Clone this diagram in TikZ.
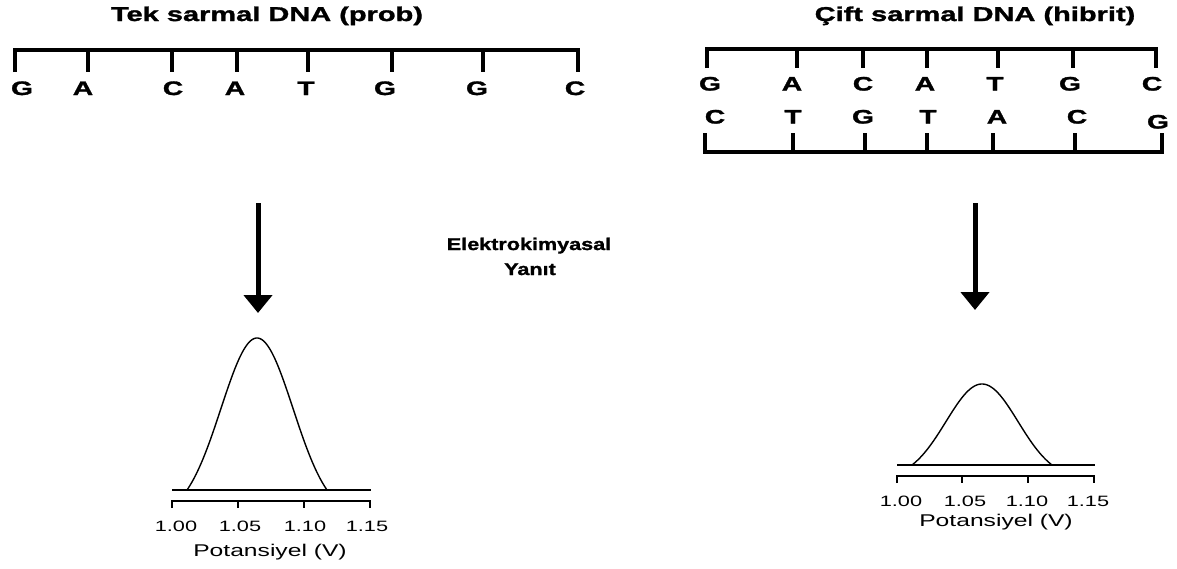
\documentclass[tikz,border=0pt]{standalone}
\usepackage{fontspec}
\setmainfont{Liberation Sans}[FakeStretch=1.45, BoldFeatures={FakeBold=1.5}]
\newfontfamily\captionfont{Liberation Sans}[FakeStretch=1.27, BoldFeatures={FakeBold=1.5}]
\usetikzlibrary{arrows.meta}

\tikzset{
  title/.style={font=\fontsize{20}{24}\selectfont\bfseries, anchor=base, inner sep=0},
  base/.style={font=\fontsize{19.5}{22}\selectfont\bfseries, anchor=base, inner sep=0},
  caption/.style={font=\captionfont\fontsize{17}{20}\selectfont\bfseries, anchor=base, inner sep=0},
  ticklabel/.style={font=\fontsize{15}{18}\selectfont, anchor=base, inner sep=0},
  axislabel/.style={font=\fontsize{17}{20}\selectfont, anchor=base, inner sep=0},
  backbone/.style={line width=4pt, line join=miter},
  pairtick/.style={line width=4pt},
  flow/.style={line width=5pt, -{Triangle[width=28pt,length=18pt]}},
  trace/.style={line width=1.4pt, line join=round},
  baseline/.style={line width=1.4pt},
  axis/.style={line width=1.4pt},
}

\begin{document}
\begin{tikzpicture}[x=1pt, y=-1pt]
\useasboundingbox (0,0) rectangle (1177,568);

% ---------- single strand (probe) ----------
\node[title] (t1) at (267,21) {Tek sarmal DNA (prob)};
\draw[backbone] (15,72) -- (15,50) -- (578,50) -- (578,72);
\foreach \x in {88,172,237,308,392,483}
  \draw[pairtick] (\x,50) -- (\x,72);
\foreach \x/\b [count=\i] in {22/G,83/A,173/C,235/A,306/T,385/G,477/G,575/C}
  \node[base] (p\i) at (\x,95) {\b};

% ---------- double strand (hybrid) ----------
\node[title] (t2) at (975,21) {Çift sarmal DNA (hibrit)};
\draw[backbone] (707,68) -- (707,49) -- (1156,49) -- (1156,68);
\foreach \x in {797,863,927,998,1073}
  \draw[pairtick] (\x,49) -- (\x,68);
\foreach \x/\b [count=\i] in {710/G,792/A,863/C,925/A,995/T,1070/G,1152/C}
  \node[base] (u\i) at (\x,90.5) {\b};
\foreach \x/\b [count=\i] in {715/C,793/T,863/G,928/T,997/A,1077/C}
  \node[base] (l\i) at (\x,123.5) {\b};
\node[base] (l7) at (1158,128.5) {G};
\draw[backbone] (705,133) -- (705,152) -- (1162,152) -- (1162,133);
\foreach \x in {793,865,927,993,1075}
  \draw[pairtick] (\x,133) -- (\x,152);

% ---------- arrows ----------
\coordinate (a1s) at (258,203);
\coordinate (a1e) at (258,313);
\coordinate (a2s) at (975,203);
\coordinate (a2e) at (975,310);
\draw[flow] (a1s) -- (a1e);
\draw[flow] (a2s) -- (a2e);

\node[caption] (c1) at (529,250) {Elektrokimyasal};
\node[caption] (c2) at (530,275) {Yanıt};

% ---------- voltammogram, probe ----------
\draw[baseline] (172,490) -- (371,490);
\draw[trace] (174,490) -- (187,490)
  -- plot[domain=-70:70, samples=90, variable=\t]
     ({257+\t},{490-152*(exp(-\t*\t/2592)-0.1511)/0.8489});
\draw[axis] (172,508) -- (172,501) -- (370,501) -- (370,508);
\draw[axis] (238,501) -- (238,508);
\draw[axis] (304,501) -- (304,508);
\foreach \x/\v [count=\i] in {176/1.00,240/1.05,305/1.10,367/1.15}
  \node[ticklabel] (la\i) at (\x,531) {\v};
\node[axislabel] (lx) at (270,556) {Potansiyel (V)};

% ---------- voltammogram, hybrid ----------
\draw[baseline] (897,465) -- (1095,465);
\draw[trace] plot[domain=-70:70, samples=90, variable=\t]
     ({982+\t},{465-81*(exp(-\t*\t/2592)-0.1511)/0.8489});
\draw[axis] (897,483) -- (897,476) -- (1094,476) -- (1094,483);
\draw[axis] (962,476) -- (962,483);
\draw[axis] (1028,476) -- (1028,483);
\foreach \x/\v [count=\i] in {901/1.00,965/1.05,1027/1.10,1088/1.15}
  \node[ticklabel] (ra\i) at (\x,506) {\v};
\node[axislabel] (rx) at (996,526) {Potansiyel (V)};
\end{tikzpicture}
\end{document}
